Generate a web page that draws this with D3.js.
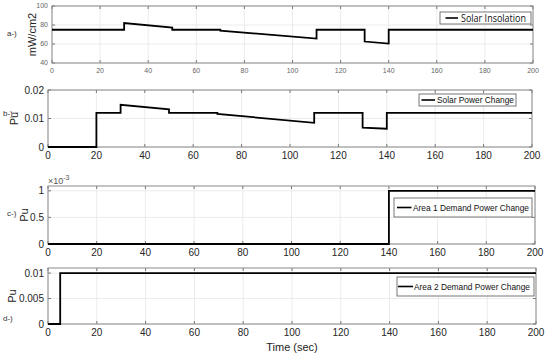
<!DOCTYPE html>
<html>
<head>
<meta charset="utf-8">
<script src="https://cdn.jsdelivr.net/npm/d3@7"></script>
<style>
  body { margin: 0; background: #fff; }
  svg { display: block; font-family: "Liberation Sans", Arial, sans-serif; }
</style>
</head>
<body>
<svg id="chart" width="550" height="358"></svg>
<script>
// time axis ticks shared by all panels
const timeTicks = [0, 20, 40, 60, 80, 100, 120, 140, 160, 180, 200];

// a-) solar insolation (mW/cm2)
const aTime = [0, 30, 30, 50, 50, 70, 70, 110, 110, 130, 130, 140, 140, 200];
const aVals = [75, 75, 82, 77.2, 75, 75, 74, 65.7, 75, 75, 62.6, 60.5, 75, 75];
const aTicks = [40, 60, 80, 100];

// b-) solar power change (pu)
const bTime = [0, 20, 20, 30, 30, 50, 50, 70, 70, 110, 110, 130, 130, 140, 140, 200];
const bVals = [0, 0, 0.012, 0.012, 0.0148, 0.0132, 0.012, 0.012, 0.0116, 0.0085, 0.012, 0.012, 0.0068, 0.0064, 0.012, 0.012];
const bTicks = [0, 0.01, 0.02];

// c-) area 1 demand power change (pu, x10^-3)
const cTime = [0, 140, 140, 200];
const cVals = [0, 0, 1, 1];
const cTicks = [0, 0.5, 1];

// d-) area 2 demand power change (pu)
const dTime = [0, 5, 5, 200];
const dVals = [0, 0, 0.01, 0.01];
const dTicks = [0, 0.005, 0.01];

const panels = [
  {time: aTime, vals: aVals, yTicks: aTicks, yDom: [40, 100],
   box: {l: 52, r: 533, t: 6, b: 63}, tickFont: 7, tickColor: "#666",
   ylabel: "mW/cm2", ylabelX: 36, ylabelSize: 11, tag: "a-)", tagX: 7, tagY: 36,
   legend: "Solar Insolation", leg: {x: 440, y: 12, w: 91, h: 12}, legFont: "Open Sans", legSize: 10.5,
   legText: {x: 461, w: 65}, legLine: [445.5, 458]},
  {time: bTime, vals: bVals, yTicks: bTicks, yDom: [0, 0.02],
   box: {l: 48, r: 532, t: 90, b: 147}, tickFont: 10, tickColor: "#262626",
   ylabel: "Pu", ylabelX: 18, ylabelSize: 11, tag: "b-)", tagX: 3, tagY: 116,
   legend: "Solar Power Change", leg: {x: 419, y: 94, w: 97, h: 12}, legFont: "Liberation Sans", legSize: 9,
   legText: {x: 437, w: 77}, legLine: [421.5, 435]},
  {time: cTime, vals: cVals, yTicks: cTicks, yDom: [0, 1.09],
   box: {l: 48, r: 535, t: 186, b: 244}, tickFont: 10, tickColor: "#262626",
   ylabel: "Pu", ylabelX: 28, ylabelSize: 11, tag: "c-)", tagX: 7, tagY: 216,
   legend: "Area 1 Demand Power Change", leg: {x: 394, y: 198, w: 138, h: 19}, legFont: "Liberation Sans", legSize: 9.4,
   legText: {x: 413, w: 116}, legLine: [397, 411.5], exponent: true},
  {time: dTime, vals: dVals, yTicks: dTicks, yDom: [0, 0.011],
   box: {l: 48, r: 536, t: 268, b: 324}, tickFont: 10, tickColor: "#262626",
   ylabel: "Pu", ylabelX: 16, ylabelSize: 11, tag: "d-)", tagX: 3, tagY: 321,
   legend: "Area 2 Demand Power Change", leg: {x: 397, y: 277, w: 137, h: 19}, legFont: "Liberation Sans", legSize: 9.4,
   legText: {x: 414, w: 116}, legLine: [398, 413]}
];

const svg = d3.select("#chart");

panels.forEach(p => {
  const bx = p.box;
  const x = d3.scaleLinear().domain([0, 200]).range([bx.l, bx.r]);
  const y = d3.scaleLinear().domain(p.yDom).range([bx.b, bx.t]);
  const g = svg.append("g");

  // grid
  g.selectAll(".vg").data(timeTicks).enter().append("line")
    .attr("x1", d => x(d)).attr("x2", d => x(d))
    .attr("y1", bx.t).attr("y2", bx.b)
    .attr("stroke", "#e6e6e6").attr("stroke-width", 0.8);
  g.selectAll(".hg").data(p.yTicks).enter().append("line")
    .attr("x1", bx.l).attr("x2", bx.r)
    .attr("y1", d => y(d)).attr("y2", d => y(d))
    .attr("stroke", "#e6e6e6").attr("stroke-width", 0.8);

  // inner tick marks (top, bottom, left, right)
  const tl = 3;
  timeTicks.forEach(t => {
    g.append("line").attr("x1", x(t)).attr("x2", x(t)).attr("y1", bx.b).attr("y2", bx.b - tl).attr("stroke", "#777");
    g.append("line").attr("x1", x(t)).attr("x2", x(t)).attr("y1", bx.t).attr("y2", bx.t + tl).attr("stroke", "#777");
  });
  p.yTicks.forEach(t => {
    g.append("line").attr("x1", bx.l).attr("x2", bx.l + tl).attr("y1", y(t)).attr("y2", y(t)).attr("stroke", "#777");
    g.append("line").attr("x1", bx.r).attr("x2", bx.r - tl).attr("y1", y(t)).attr("y2", y(t)).attr("stroke", "#777");
  });

  // frame
  g.append("rect").attr("x", bx.l).attr("y", bx.t)
    .attr("width", bx.r - bx.l).attr("height", bx.b - bx.t)
    .attr("fill", "none").attr("stroke", "#8a8a8a").attr("stroke-width", 1);

  // tick labels
  g.selectAll(".xt").data(timeTicks).enter().append("text")
    .attr("x", d => x(d)).attr("y", bx.b + 4 + p.tickFont * 0.8)
    .attr("text-anchor", "middle").attr("font-size", p.tickFont)
    .attr("fill", p.tickColor).text(d => d);
  g.selectAll(".yt").data(p.yTicks).enter().append("text")
    .attr("x", bx.l - 4).attr("y", d => y(d) + p.tickFont * 0.35)
    .attr("text-anchor", "end").attr("font-size", p.tickFont)
    .attr("fill", p.tickColor).text(d => d);

  if (p.exponent) {
    const e = g.append("text").attr("x", bx.l).attr("y", bx.t - 2)
      .attr("font-size", 9).attr("fill", "#555");
    e.append("tspan").text("\u00d710");
    e.append("tspan").attr("dy", -4).attr("font-size", 7).text("-3");
  }

  // y label
  g.append("text")
    .attr("transform", `translate(${p.ylabelX},${(bx.t + bx.b) / 2}) rotate(-90)`)
    .attr("text-anchor", "middle").attr("font-size", p.ylabelSize)
    .attr("fill", "#222").text(p.ylabel);

  // panel tag
  g.append("text").attr("x", p.tagX).attr("y", p.tagY)
    .attr("font-size", 8).attr("fill", "#333").text(p.tag);

  // data line
  const pts = p.time.map((t, i) => [t, p.vals[i]]);
  g.append("path").datum(pts)
    .attr("d", d3.line().x(d => x(d[0])).y(d => y(d[1])))
    .attr("fill", "none").attr("stroke", "#000").attr("stroke-width", 1.8);

  // legend
  const L = p.leg;
  g.append("rect").attr("x", L.x).attr("y", L.y).attr("width", L.w).attr("height", L.h)
    .attr("fill", "#fff").attr("stroke", "#555").attr("stroke-width", 0.8);
  g.append("line").attr("x1", p.legLine[0]).attr("x2", p.legLine[1])
    .attr("y1", L.y + L.h / 2).attr("y2", L.y + L.h / 2)
    .attr("stroke", "#000").attr("stroke-width", 1.6);
  g.append("text").attr("x", p.legText.x).attr("y", L.y + L.h / 2 + p.legSize * 0.36)
    .attr("font-family", p.legFont).attr("font-size", p.legSize)
    .attr("textLength", p.legText.w).attr("lengthAdjust", "spacingAndGlyphs")
    .attr("fill", "#111").text(p.legend);
});

// shared x label
svg.append("text").attr("x", 292).attr("y", 351)
  .attr("text-anchor", "middle").attr("font-size", 11)
  .attr("fill", "#222").text("Time (sec)");
</script>
</body>
</html>
